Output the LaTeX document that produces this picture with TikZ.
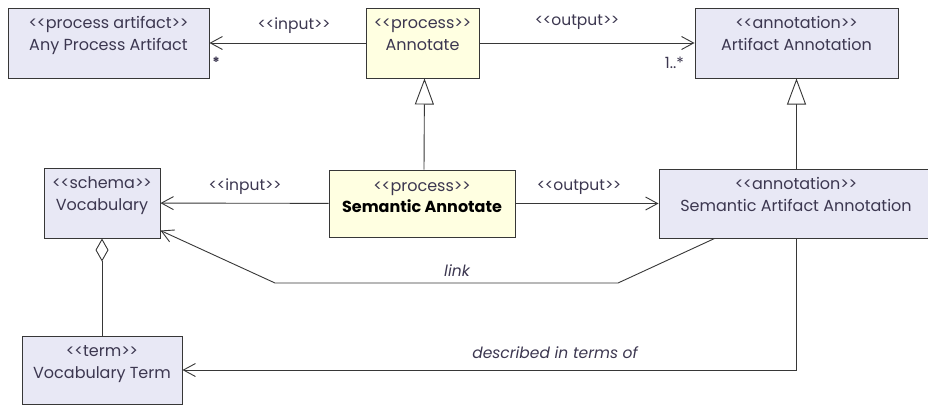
\documentclass[tikz,border=0pt]{standalone}
\usepackage{fontspec}
\setmainfont{Poppins}
\usetikzlibrary{arrows.meta}

\definecolor{clsfill}{RGB}{232,232,245}
\definecolor{procfill}{RGB}{255,255,225}
\definecolor{linec}{RGB}{55,55,55}
\definecolor{txtc}{RGB}{60,55,80}

% stereotype brackets, kept apart so they are not merged into guillemets
\newcommand\stereo[1]{<\kern-0.5pt<#1>\kern-0.5pt>}

\tikzset{
  cls/.style={draw=linec, line width=1pt, fill=clsfill, minimum height=70pt, inner sep=0pt},
  proc/.style={cls, fill=procfill},
  boxtext/.style={anchor=base, inner sep=0pt, text=txtc, font=\fontsize{16}{18}\selectfont},
  st/.style={boxtext, yshift=-21pt},
  nm/.style={boxtext, yshift=-43pt},
  lbl/.style={inner sep=0pt, text=txtc, font=\fontsize{15.5}{16}\selectfont},
  ilbl/.style={lbl, font=\fontsize{15.5}{16}\selectfont\itshape},
  conn/.style={draw=linec, line width=0.9pt},
  assoc/.style={conn, -{Straight Barb[length=12pt,width=13pt,line width=0.9pt]}},
  gen/.style={conn, -{Triangle[open,length=26pt,width=19pt,fill=white,line width=0.9pt]}},
  aggr/.style={conn, {Diamond[open,length=23pt,width=13pt,fill=white,line width=0.9pt]}-},
}

\begin{document}
\begin{tikzpicture}[x=1pt,y=-1pt]
\clip (0,0) rectangle (928,405);
\fill[white] (0,0) rectangle (928,405);

% classes and processes
\node[cls, minimum width=201pt,
      label={[st]north:\stereo{process artifact}},
      label={[nm]north:Any Process Artifact}] (apa) at (108.5,43) {};
\node[proc, minimum width=113pt,
      label={[st]north:\stereo{process}},
      label={[nm]north:Annotate}] (ann) at (422.5,43) {};
\node[cls, minimum width=203pt,
      label={[st]north:\stereo{annotation}},
      label={[nm]north:Artifact Annotation}] (aa) at (796.5,43) {};
\node[cls, minimum width=116pt,
      label={[st]north:\stereo{schema}},
      label={[nm]north:Vocabulary}] (voc) at (102,203) {};
\node[proc, minimum width=186pt, minimum height=67pt,
      label={[st, yshift=-1pt]north:\stereo{process}},
      label={[nm, text=black, font=\fontsize{16}{18}\selectfont\bfseries]north:Semantic Annotate}] (sa) at (422,203.5) {};
\node[cls, minimum width=274pt, minimum height=69pt,
      label={[st]north:\stereo{annotation}},
      label={[nm]north:Semantic Artifact Annotation}] (saa) at (796,203.5) {};
\node[cls, minimum width=160pt, minimum height=68pt,
      label={[st]north:\stereo{term}},
      label={[nm]north:Vocabulary Term}] (vt) at (102,370) {};

% inputs and outputs
\draw[assoc] (ann) -- (apa);
\draw[assoc] (ann) -- (aa);
\draw[assoc] (sa) -- (voc);
\draw[assoc] (sa) -- (saa);
\node[lbl] (l-in1) at (294,26) {\stereo{input}};
\node[lbl] (l-out1) at (577,22) {\stereo{output}};
\node[lbl] (l-in2) at (245,187) {\stereo{input}};
\node[lbl] (l-out2) at (579,187) {\stereo{output}};
\node[lbl, font=\fontsize{14}{14}\selectfont\bfseries] (m-any) at (216,62) {*};
\node[lbl, anchor=east] (m-one) at (684,63) {1..*};

% specialisations
\draw[gen] ([xshift=2pt]sa.north) -- ([xshift=2pt]ann.south);
\draw[gen] (saa.north -| aa.south) -- (aa.south);

% link between annotation and vocabulary
\coordinate (lk1) at (618,283);
\coordinate (lk2) at (275,283);
\draw[assoc] ([xshift=56pt]saa.south west) -- (lk1) -- (lk2) -- ([yshift=8pt]voc.south east);
\node[ilbl] (l-link) at (457,271) {link};

% described in terms of
\draw[assoc] (saa.south -| aa.south) |- (vt.east);
\node[ilbl] (l-desc) at (555,353) {described in terms of};

% vocabulary terms belong to the vocabulary
\draw[aggr] (voc.south) -- (vt.north);
\end{tikzpicture}
\end{document}
